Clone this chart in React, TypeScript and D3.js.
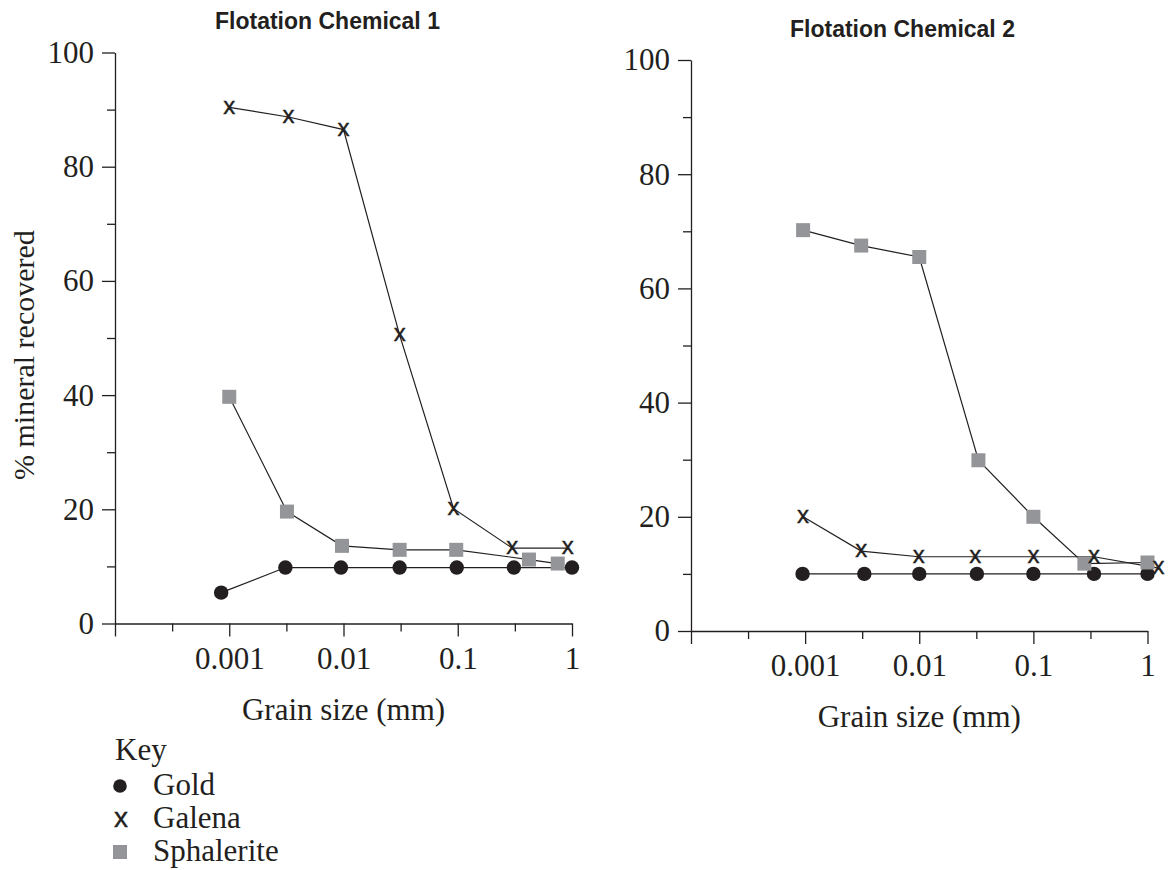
import * as d3 from 'd3';
import React, { useRef, useEffect } from 'react';

// grain size (mm) and % recovered
const grainGold1 = [0.00085, 0.0031, 0.0095, 0.031, 0.098, 0.31, 1];
const gold1 = [5.4, 9.8, 9.8, 9.8, 9.8, 9.8, 9.8];
const grainGalena1 = [0.001, 0.0033, 0.01, 0.031, 0.092, 0.3, 0.92];
const galena1 = [90.4, 88.7, 86.5, 50.5, 20.1, 13.2, 13.2];
const grainSph1 = [0.001, 0.0032, 0.0097, 0.031, 0.097, 0.42, 0.75];
const sph1 = [39.7, 19.6, 13.6, 12.9, 12.9, 11.2, 10.5];

const grainGold2 = [0.00095, 0.0033, 0.01, 0.032, 0.1, 0.34, 1];
const gold2 = [10, 10, 10, 10, 10, 10, 10];
const grainGalena2 = [0.00096, 0.0031, 0.0099, 0.031, 0.1, 0.34, 1.25];
const galena2 = [20, 14, 13, 13, 13, 13, 11];
const grainSph2 = [0.00096, 0.0031, 0.01, 0.033, 0.1, 0.28, 1];
const sph2 = [70.2, 67.5, 65.5, 29.9, 20, 11.8, 12];

const xMajor = [0.0001, 0.001, 0.01, 0.1, 1];
const xMinor = [-3.5, -2.5, -1.5, -0.5].map((e) => Math.pow(10, e));
const xLabels = ['', '0.001', '0.01', '0.1', '1'];
const yMajor = [0, 20, 40, 60, 80, 100];
const yMinor = [10, 30, 50, 70, 90];

const titles = ['Flotation Chemical 1', 'Flotation Chemical 2'];
const keyNames = ['Gold', 'Galena', 'Sphalerite'];

const INK = '#231f20';
const GREY = '#939598';
const SERIF = '"Liberation Serif", "Times New Roman", serif';
const SANS = '"Liberation Sans", Arial, sans-serif';

const zip = (xs: number[], ys: number[]) => xs.map((x, i) => ({ x, y: ys[i] }));

const App = () => {
  const ref = useRef<SVGSVGElement>(null);

  useEffect(() => {
    const svg = d3.select(ref.current);
    svg.selectAll('*').remove();

    const panels = [
      {
        x: d3.scaleLog().domain([0.0001, 1]).range([115, 572]),
        y: d3.scaleLinear().domain([0, 100]).range([623.5, 52.5]),
        gold: zip(grainGold1, gold1),
        galena: zip(grainGalena1, galena1),
        sph: zip(grainSph1, sph1),
        title: titles[0],
        titleX: 215,
        titleY: 29,
      },
      {
        x: d3.scaleLog().domain([0.0001, 1]).range([691, 1147.5]),
        y: d3.scaleLinear().domain([0, 100]).range([631, 60]),
        gold: zip(grainGold2, gold2),
        galena: zip(grainGalena2, galena2),
        sph: zip(grainSph2, sph2),
        title: titles[1],
        titleX: 790,
        titleY: 37,
      },
    ];

    panels.forEach((p) => {
      const g = svg.append('g');
      const y0 = p.y(0);
      const xl = p.x(0.0001);

      // x axis
      const xAxis = g.append('g').attr('transform', `translate(0,${y0})`)
        .call(d3.axisBottom(p.x).tickValues(xMajor).tickSize(13).tickSizeOuter(0)
          .tickPadding(10).tickFormat((d, i) => xLabels[i]));
      g.append('g').attr('transform', `translate(0,${y0})`)
        .call(d3.axisBottom(p.x).tickValues(xMinor).tickSize(8).tickFormat(() => ''))
        .select('.domain').remove();
      xAxis.selectAll('text').attr('font-size', 31).attr('font-family', SERIF).attr('fill', INK);

      // y axis
      const yAxis = g.append('g').attr('transform', `translate(${xl},0)`)
        .call(d3.axisLeft(p.y).tickValues(yMajor).tickSize(13).tickSizeOuter(0).tickPadding(8));
      g.append('g').attr('transform', `translate(${xl},0)`)
        .call(d3.axisLeft(p.y).tickValues(yMinor).tickSize(8).tickFormat(() => ''))
        .select('.domain').remove();
      yAxis.selectAll('text').attr('font-size', 31).attr('font-family', SERIF).attr('fill', INK);

      g.selectAll('.domain, .tick line').attr('stroke', INK).attr('stroke-width', 1.3);

      g.append('text')
        .attr('x', (p.x.range()[0] + p.x.range()[1]) / 2)
        .attr('y', y0 + 96)
        .attr('text-anchor', 'middle')
        .attr('font-family', SERIF).attr('font-size', 31).attr('fill', INK)
        .text('Grain size (mm)');

      g.append('text')
        .attr('x', p.titleX).attr('y', p.titleY)
        .attr('font-family', SANS).attr('font-weight', 'bold').attr('font-size', 23).attr('fill', INK)
        .text(p.title);

      const line = d3.line<{ x: number; y: number }>().x((d) => p.x(d.x)).y((d) => p.y(d.y));
      [p.gold, p.sph, p.galena].forEach((s) => {
        g.append('path').attr('d', line(s)).attr('fill', 'none').attr('stroke', INK).attr('stroke-width', 1.2);
      });

      g.selectAll('.gold').data(p.gold).enter().append('circle')
        .attr('cx', (d) => p.x(d.x)).attr('cy', (d) => p.y(d.y)).attr('r', 7.2).attr('fill', INK);
      g.selectAll('.sph').data(p.sph).enter().append('rect')
        .attr('x', (d) => p.x(d.x) - 7).attr('y', (d) => p.y(d.y) - 7)
        .attr('width', 14).attr('height', 14).attr('fill', GREY);
      g.selectAll('.gal').data(p.galena).enter().append('text')
        .attr('x', (d) => p.x(d.x)).attr('y', (d) => p.y(d.y) + 6.3)
        .attr('text-anchor', 'middle').attr('font-family', SANS).attr('font-size', 24).attr('fill', INK)
        .attr('stroke', INK).attr('stroke-width', 0.4)
        .text('x');
    });

    svg.append('text')
      .attr('transform', 'translate(34,480) rotate(-90)')
      .attr('font-family', SERIF).attr('font-size', 30).attr('fill', INK)
      .text('% mineral recovered');

    // key
    svg.append('text').attr('x', 115).attr('y', 760)
      .attr('font-family', SERIF).attr('font-size', 31).attr('fill', INK).text('Key');
    const rows = [795, 828, 861];
    keyNames.forEach((name, i) => {
      svg.append('text').attr('x', 153).attr('y', rows[i])
        .attr('font-family', SERIF).attr('font-size', 31).attr('fill', INK).text(name);
    });
    svg.append('circle').attr('cx', 120).attr('cy', rows[0] - 9).attr('r', 6.8).attr('fill', INK);
    svg.append('text').attr('x', 121).attr('y', rows[1] - 1).attr('text-anchor', 'middle')
      .attr('font-family', SANS).attr('font-size', 28).attr('fill', INK)
      .attr('stroke', INK).attr('stroke-width', 0.4).text('x');
    svg.append('rect').attr('x', 113).attr('y', rows[2] - 16).attr('width', 14).attr('height', 14).attr('fill', GREY);
  }, []);

  return (
    <div style={{ position: 'absolute', left: 0, top: 0 }}>
      <svg ref={ref} width={1168} height={870} style={{ display: 'block', background: '#fff' }} />
    </div>
  );
};

export default App;
